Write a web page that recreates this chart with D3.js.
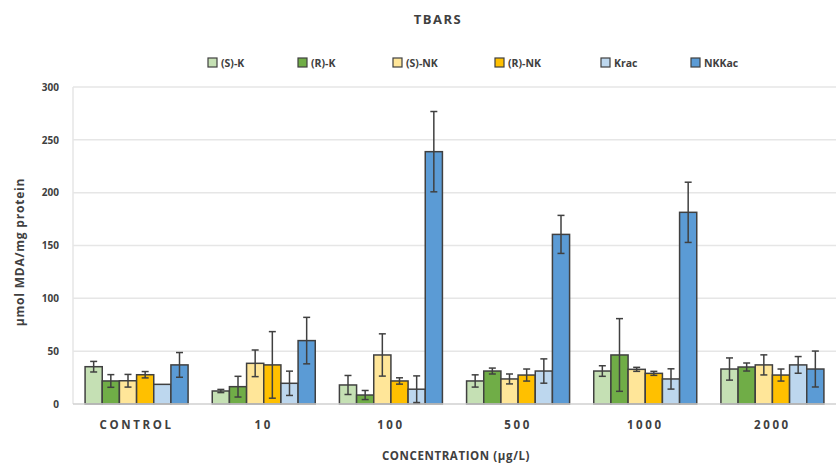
<!DOCTYPE html>
<html>
<head>
<meta charset="utf-8">
<script src="https://cdn.jsdelivr.net/npm/d3@7"></script>
<style>
  body { margin: 0; background: #fff; }
  text { font-family: "Open Sans", "Liberation Sans", sans-serif; fill: #404040; }
</style>
</head>
<body>
<div id="chart"></div>
<script>
var categories = ["CONTROL", "10", "100", "500", "1000", "2000"];
var seriesNames = ["(S)-K", "(R)-K", "(S)-NK", "(R)-NK", "Krac", "NKKac"];
var colors = ["#C5E0B4", "#70AD47", "#FFE699", "#FFC000", "#BDD7EE", "#5B9BD5"];

// means per series, one value per category
var sK   = [35.3, 12.3, 18, 21.8, 31.2, 33.1];
var rK   = [21.8, 16.4, 8.5, 31.2, 46.4, 35];
var sNK  = [22, 38.5, 46.4, 23.7, 32.8, 37];
var rNK  = [27.7, 37, 21.8, 27.4, 29, 27.4];
var krac = [18.6, 19.6, 14, 31.2, 23.7, 37];
var nkkac = [37, 60, 238.8, 160.5, 181.4, 33.1];

// error bars (+/-)
var sKErr   = [5, 1.5, 9, 5.8, 5, 10.5];
var rKErr   = [6, 9.8, 4.3, 2.8, 34.4, 3.8];
var sNKErr  = [6, 12.6, 20, 4.7, 1.9, 9.5];
var rNKErr  = [3, 31.5, 3, 5.7, 1.9, 5.7];
var kracErr = [0, 11.5, 12.6, 11.5, 9.6, 7.9];
var nkkacErr = [11.7, 22, 38, 18, 28.5, 17];

var yTicks = [0, 50, 100, 150, 200, 250, 300];

var values = [sK, rK, sNK, rNK, krac, nkkac];
var errors = [sKErr, rKErr, sNKErr, rNKErr, kracErr, nkkacErr];

var width = 837, height = 464;
var plotLeft = 73, plotRight = 836, plotTop = 87, plotBottom = 404;

var svg = d3.select("#chart").append("svg")
  .attr("width", width).attr("height", height);

var x0 = d3.scaleBand().domain(categories).range([plotLeft, plotRight])
  .paddingInner(0.19).paddingOuter(0.095);
var x1 = d3.scaleBand().domain(seriesNames).range([0, x0.bandwidth()]).padding(0);
var y = d3.scaleLinear().domain([0, 300]).range([plotBottom, plotTop]);

// gridlines
svg.append("g").selectAll("line").data(yTicks.slice(1)).enter().append("line")
  .attr("x1", plotLeft).attr("x2", plotRight)
  .attr("y1", function(d){ return y(d); }).attr("y2", function(d){ return y(d); })
  .attr("stroke", "#e6e6e6").attr("stroke-width", 1.5);

// left axis line
svg.append("line").attr("x1", plotLeft).attr("x2", plotLeft).attr("y1", plotTop).attr("y2", plotBottom)
  .attr("stroke", "#e6e6e6").attr("stroke-width", 1.5);

// y tick labels
var yAxis = svg.append("g").attr("transform", "translate(" + plotLeft + ",0)")
  .call(d3.axisLeft(y).tickValues(yTicks).tickSize(0).tickPadding(14));
yAxis.select(".domain").remove();
yAxis.selectAll("text").style("font-size", "10px").style("font-weight", "bold")
  .style("fill", "#404040").style("font-family", "'Open Sans', sans-serif");

// bars
var data = [];
categories.forEach(function(c, i){
  seriesNames.forEach(function(s, j){
    data.push({cat: c, ser: s, v: values[j][i], e: errors[j][i], color: colors[j]});
  });
});

var bars = svg.append("g");
bars.selectAll("rect").data(data).enter().append("rect")
  .attr("x", function(d){ return x0(d.cat) + x1(d.ser); })
  .attr("y", function(d){ return y(d.v); })
  .attr("width", x1.bandwidth())
  .attr("height", function(d){ return y(0) - y(d.v); })
  .attr("fill", function(d){ return d.color; })
  .attr("stroke", "#404040").attr("stroke-width", 1.5);

// baseline
svg.append("line").attr("x1", plotLeft).attr("x2", plotRight).attr("y1", y(0)).attr("y2", y(0))
  .attr("stroke", "#d0d0d0").attr("stroke-width", 1.5);

// error bars
var eb = svg.append("g").attr("stroke", "#404040").attr("stroke-width", 1.5);
data.filter(function(d){ return d.e > 0; }).forEach(function(d){
  var cx = x0(d.cat) + x1(d.ser) + x1.bandwidth() / 2;
  eb.append("line").attr("x1", cx).attr("x2", cx)
    .attr("y1", y(d.v + d.e)).attr("y2", y(d.v - d.e));
  [d.v + d.e, d.v - d.e].forEach(function(v){
    eb.append("line").attr("x1", cx - 3.5).attr("x2", cx + 3.5)
      .attr("y1", y(v)).attr("y2", y(v));
  });
});

// x labels
svg.append("g").selectAll("text").data(categories).enter().append("text")
  .attr("x", function(d){ return x0(d) + x0.bandwidth() / 2; })
  .attr("y", 429)
  .attr("text-anchor", "middle")
  .style("font-size", "11.5px").style("font-weight", "bold").style("letter-spacing", "2.6px")
  .text(function(d){ return d; });

// axis titles
svg.append("text").attr("x", 456).attr("y", 460).attr("text-anchor", "middle")
  .style("font-size", "11.5px").style("font-weight", "bold").style("letter-spacing", "0.6px")
  .text("CONCENTRATION (µg/L)");

svg.append("text").attr("transform", "translate(24,252) rotate(-90)")
  .attr("text-anchor", "middle")
  .style("font-size", "12px").style("font-weight", "bold").style("letter-spacing", "0.8px")
  .text("µmol MDA/mg protein");

// title
svg.append("text").attr("x", 438).attr("y", 24).attr("text-anchor", "middle")
  .style("font-size", "13px").style("font-weight", "bold").style("letter-spacing", "1.5px")
  .text("TBARS");

// legend
var legendX = [208, 298, 393, 495, 601, 691];
var lg = svg.append("g");
seriesNames.forEach(function(s, j){
  var g = lg.append("g").attr("transform", "translate(" + legendX[j] + ",58)");
  g.append("rect").attr("width", 9).attr("height", 9)
    .attr("fill", colors[j]).attr("stroke", "#404040").attr("stroke-width", 1.2);
  g.append("text").attr("x", 13).attr("y", 8.5)
    .style("font-size", "10.5px").style("font-weight", "bold")
    .text(s);
});
</script>
</body>
</html>
